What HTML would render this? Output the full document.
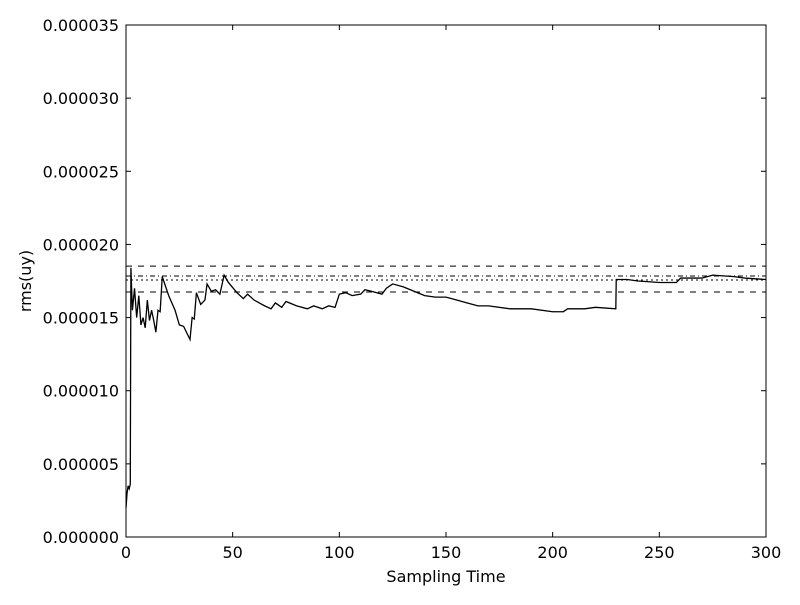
<!DOCTYPE html>
<html><head><meta charset="utf-8"><style>
body{margin:0;background:#fff;}
svg text{font-family:"DejaVu Sans","Liberation Sans",sans-serif;font-size:16px;fill:#000;}
</style></head><body>
<svg id="chart" width="800" height="600"></svg>
<script>
const xTicks=[0,50,100,150,200,250,300];
const yTicks=[0,5,10,15,20,25,30,35];
const yTickLabels=["0.000000","0.000005","0.000010","0.000015","0.000020","0.000025","0.000030","0.000035"];
const times=[0,0.5,1,1.5,2,2.3,3,4,5,6,7,8,9,10,11,12,13,14,15,16,17,20,23,25,27,29,30,31,32,33,35,37,38,40,42,44,46,48,52,55,57,60,65,68,70,73,75,80,85,88,92,95,98,100,103,106,110,112,115,120,122,125,130,135,140,145,150,155,160,165,170,180,190,200,205,207,215,220,229.6,229.8,235,240,250,258,260,270,275,285,290,300];
const rmsValues=[2.0,3.0,3.5,3.3,3.6,18.4,15.5,17.0,15.0,16.5,14.5,15.0,14.3,16.2,14.8,15.5,14.8,14.0,15.5,15.4,17.8,16.5,15.5,14.5,14.4,13.8,13.5,15.0,14.9,16.7,15.9,16.2,17.3,16.8,16.9,16.6,17.9,17.4,16.7,16.3,16.6,16.2,15.8,15.6,16.0,15.7,16.1,15.8,15.6,15.8,15.6,15.8,15.7,16.6,16.7,16.5,16.6,16.9,16.8,16.6,17.0,17.3,17.1,16.8,16.5,16.4,16.4,16.2,16.0,15.8,15.8,15.6,15.6,15.4,15.4,15.6,15.6,15.7,15.6,17.6,17.6,17.5,17.4,17.4,17.7,17.7,17.9,17.8,17.7,17.6];
const refLevels=[18.52,16.75,17.84,17.57];
const refStyles=["6,6","6,6","5,3,1,3","2,3"];
const refNames=["upper-bound-line","lower-bound-line","mean-line","target-line"];
const L=126,R=766,T=25,B=537;
const sx=t=>L+(t-0)/300*(R-L);
const sy=v=>B-v/35*(B-T);
const NS="http://www.w3.org/2000/svg";
const svg=document.getElementById('chart');
function mk(tag,attrs){const e=document.createElementNS(NS,tag);for(const k in attrs)e.setAttribute(k,attrs[k]);svg.appendChild(e);return e;}
refLevels.forEach((v,i)=>{const l=mk('line',{x1:L,x2:R,y1:sy(v),y2:sy(v),stroke:'#000','stroke-width':1,'stroke-dasharray':refStyles[i]});

});
const p=mk('polyline',{points:times.map((t,i)=>sx(t)+','+sy(rmsValues[i])).join(' '),fill:'none',stroke:'#000','stroke-width':1.3});


const f=mk('rect',{x:L,y:T,width:R-L,height:B-T,fill:'none',stroke:'#000','stroke-width':1});


xTicks.forEach(t=>{const x=sx(t);
mk('line',{x1:x,x2:x,y1:B,y2:B-5,stroke:'#000'});mk('line',{x1:x,x2:x,y1:T,y2:T+5,stroke:'#000'});
const tx=mk('text',{x:x,y:B+21,'text-anchor':'middle'});tx.textContent=t;

});
yTicks.forEach((v,i)=>{const y=sy(v);
mk('line',{x1:L,x2:L+5,y1:y,y2:y,stroke:'#000'});mk('line',{x1:R,x2:R-5,y1:y,y2:y,stroke:'#000'});
const tx=mk('text',{x:L-7,y:y+6,'text-anchor':'end'});tx.textContent=yTickLabels[i];

});
const xt=mk('text',{x:(L+R)/2,y:582,'text-anchor':'middle'});xt.textContent='Sampling Time';


const yt=mk('text',{x:31,y:281,'text-anchor':'middle',transform:'rotate(-90 31 281)'});yt.textContent='rms(uy)';


</script>
</body></html>
